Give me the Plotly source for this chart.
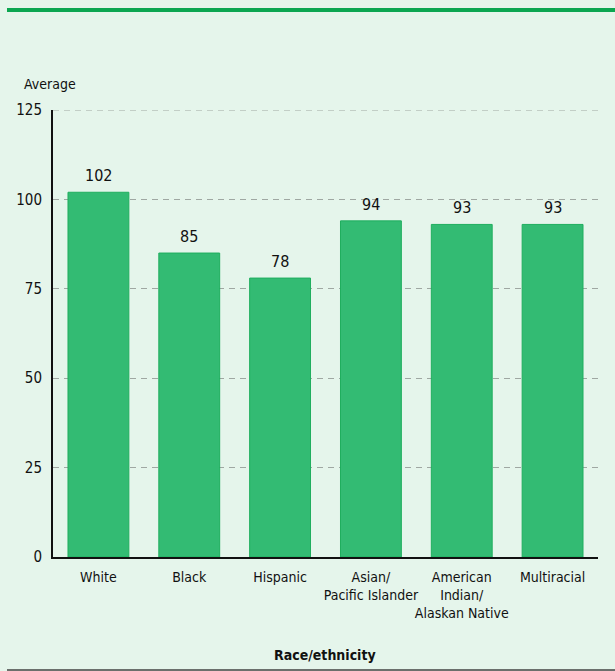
import plotly.graph_objects as go

# Average score by race/ethnicity
categories = ["White", "Black", "Hispanic", "Asian/<br>Pacific Islander",
              "American<br>Indian/<br>Alaskan Native", "Multiracial"]
averages = [102, 85, 78, 94, 93, 93]
y_ticks = [0, 25, 50, 75, 100, 125]

FONT = "DejaVu Sans Condensed, Liberation Sans Narrow, Roboto, sans-serif"
BG = "#e5f5eb"
GRID = "#9fa7a2"

fig = go.Figure(
    go.Bar(
        x=categories,
        y=averages,
        width=0.67,
        marker=dict(color="#33bb73", line=dict(color="#1fae5e", width=1)),
        hoverinfo="x+y",
    )
)

# value labels above each bar
value_labels = [
    dict(x=c, y=v, xref="x", yref="y", text=str(v), showarrow=False,
         xanchor="center", yanchor="bottom", yshift=5,
         font=dict(size=16, color="#111111"))
    for c, v in zip(categories, averages)
]

fig.update_layout(
    width=615,
    height=671,
    margin=dict(l=53, r=17, t=110, b=114, autoexpand=False),
    paper_bgcolor=BG,
    plot_bgcolor=BG,
    font=dict(family=FONT, size=14, color="#111111"),
    showlegend=False,
    bargap=0.33,
    xaxis=dict(
        showgrid=False,
        showline=True,
        linecolor="#111111",
        linewidth=2,
        ticks="",
        tickangle=0,
        automargin=False,
        tickfont=dict(size=14),
        ticklabelstandoff=6,
    ),
    yaxis=dict(
        range=[0, 125],
        tickvals=y_ticks,
        showgrid=True,
        gridcolor=GRID,
        griddash="6px,5px",
        gridwidth=1,
        zeroline=False,
        showline=True,
        linecolor="#111111",
        linewidth=2,
        ticks="",
        automargin=False,
        tickfont=dict(size=15),
        ticklabelstandoff=6,
    ),
    shapes=[
        # dashed grid line at the top of the range
        dict(type="line", xref="paper", yref="y",
             x0=0, x1=1, y0=125, y1=125,
             line=dict(color=GRID, width=1, dash="6px,5px")),
        # green rule across the top
        dict(type="line", xref="paper", yref="paper",
             x0=-0.0844, x1=1.04, y0=1.2237, y1=1.2237,
             line=dict(color="#0ba650", width=4)),
        # gray rule across the bottom
        dict(type="line", xref="paper", yref="paper",
             x0=-0.0844, x1=1.04, y0=-0.2528, y1=-0.2528,
             line=dict(color="#6b6f6c", width=2)),
    ],
    annotations=value_labels + [
        dict(text="Average", xref="paper", yref="paper",
             x=(22 - 53) / 545, y=(557 - 84) / 447,
             xanchor="left", yanchor="middle", showarrow=False,
             font=dict(size=14)),
        dict(text="<b>Race/ethnicity</b>", xref="paper", yref="paper",
             x=(325 - 53) / 545, y=(557 - 655) / 447,
             xanchor="center", yanchor="middle", showarrow=False,
             font=dict(size=14)),
    ],
)

fig.write_html("out.html")
